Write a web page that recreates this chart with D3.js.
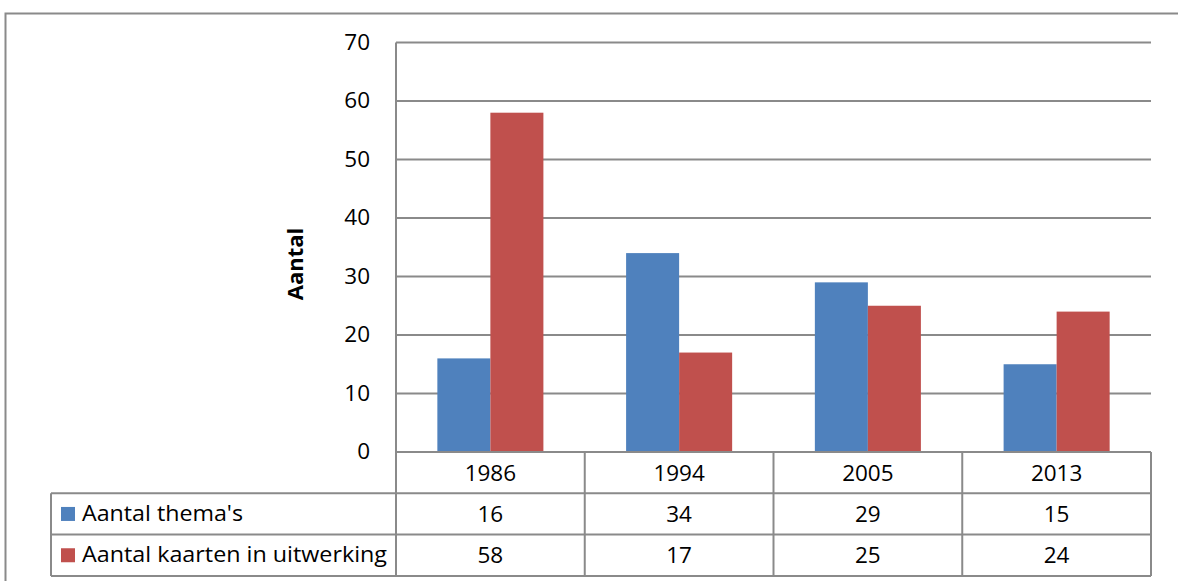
<!DOCTYPE html>
<html lang="nl">
  <head>
    <meta charset="utf-8" />
    <title>Aantal</title>
    <style>
      body { margin: 0; background: #fff; }
      svg text { font-family: "Open Sans", "Liberation Sans", sans-serif; fill: #000; }
    </style>
  </head>
  <body>
    <svg id="viz"></svg>
    <script src="https://d3js.org/d3.v7.min.js"></script>
    <script>
        var years = ["1986", "1994", "2005", "2013"];
        var seriesNames = ["Aantal thema's", "Aantal kaarten in uitwerking"];
        var themas = [16, 34, 29, 15];
        var kaarten = [58, 17, 25, 24];
        var yTicks = [0, 10, 20, 30, 40, 50, 60, 70];
        var colors = ["#4f81bd", "#c0504d"];

        var width = 1178, height = 581;
        var plotLeft = 396, plotRight = 1151, plotTop = 42.5, plotBottom = 452;
        var rowH = 41.3;
        var tableLeft = 51;
        var lineColor = "#8a8a8a";
        var fontSize = "22.5px";

        var svg = d3.select("#viz").attr("width", width).attr("height", height);

        // outer frame
        svg.append("path")
            .attr("d", "M5.5,581 L5.5,13.5 L1178,13.5")
            .attr("fill", "none")
            .attr("stroke", lineColor)
            .attr("stroke-width", 2);

        var x = d3.scaleBand().domain(years).range([plotLeft, plotRight]);
        var xs = d3.scaleBand().domain([0, 1]).range([0, x.bandwidth()]).paddingInner(0).paddingOuter(0.78);
        var y = d3.scaleLinear().domain([0, 70]).range([plotBottom, plotTop]);

        // gridlines
        svg.append("g").selectAll("line")
            .data(yTicks.filter(function(d) { return d > 0; }))
            .enter().append("line")
            .attr("x1", plotLeft).attr("x2", plotRight)
            .attr("y1", function(d) { return y(d); })
            .attr("y2", function(d) { return y(d); })
            .attr("stroke", lineColor)
            .attr("stroke-width", 2);

        // y axis labels
        var yAxis = svg.append("g")
            .attr("transform", "translate(" + (plotLeft - 26) + ",0)")
            .call(d3.axisLeft(y).tickValues(yTicks).tickSize(0).tickPadding(0));
        yAxis.select(".domain").remove();
        yAxis.selectAll("text")
            .style("font-size", fontSize)
            .style("font-family", "'Open Sans', sans-serif")
            .attr("dy", "0.3em")
            .attr("fill", "#000");

        svg.append("text")
            .attr("transform", "translate(303,264) rotate(-90)")
            .attr("text-anchor", "middle")
            .style("font-size", "22px")
            .style("font-weight", "bold")
            .text("Aantal");

        // bars
        var data = [themas, kaarten];
        data.forEach(function(vals, s) {
            svg.append("g").selectAll("rect")
                .data(vals)
                .enter().append("rect")
                .attr("x", function(d, i) { return x(years[i]) + xs(s); })
                .attr("width", xs.bandwidth())
                .attr("y", function(d) { return y(d); })
                .attr("height", function(d) { return y(0) - y(d); })
                .attr("fill", colors[s]);
        });

        // data table
        var grid = svg.append("g")
            .attr("stroke", lineColor)
            .attr("stroke-width", 2)
            .attr("fill", "none");
        grid.append("line").attr("x1", plotLeft).attr("x2", plotLeft).attr("y1", plotTop).attr("y2", plotBottom + rowH * 3);
        grid.append("line").attr("x1", plotLeft).attr("x2", plotRight).attr("y1", plotBottom).attr("y2", plotBottom);
        [1, 2, 3].forEach(function(r) {
            grid.append("line").attr("x1", tableLeft).attr("x2", plotRight)
                .attr("y1", plotBottom + rowH * r).attr("y2", plotBottom + rowH * r);
        });
        grid.append("line").attr("x1", tableLeft).attr("x2", tableLeft)
            .attr("y1", plotBottom + rowH).attr("y2", plotBottom + rowH * 3);
        years.forEach(function(yr) {
            var xx = x(yr) + x.bandwidth();
            grid.append("line").attr("x1", xx).attr("x2", xx)
                .attr("y1", plotBottom).attr("y2", plotBottom + rowH * 3);
        });

        var cells = svg.append("g").style("font-size", fontSize).attr("text-anchor", "middle");
        years.forEach(function(yr, i) {
            var cx = x(yr) + x.bandwidth() / 2;
            cells.append("text").attr("x", cx).attr("y", plotBottom + rowH * 0.5).attr("dy", "0.36em").text(yr);
            cells.append("text").attr("x", cx).attr("y", plotBottom + rowH * 1.5).attr("dy", "0.34em").text(themas[i]);
            cells.append("text").attr("x", cx).attr("y", plotBottom + rowH * 2.5).attr("dy", "0.34em").text(kaarten[i]);
        });

        seriesNames.forEach(function(name, s) {
            var cy = plotBottom + rowH * (s + 1.5);
            svg.append("rect")
                .attr("x", 61).attr("y", cy - 7)
                .attr("width", 14).attr("height", 14)
                .attr("fill", colors[s]);
            svg.append("text")
                .attr("x", 82).attr("y", cy).attr("dy", "0.3em")
                .style("font-size", fontSize)
                .attr("textLength", s === 0 ? 161 : 305)
                .attr("lengthAdjust", "spacingAndGlyphs")
                .text(name);
        });
    </script>
  </body>
</html>
